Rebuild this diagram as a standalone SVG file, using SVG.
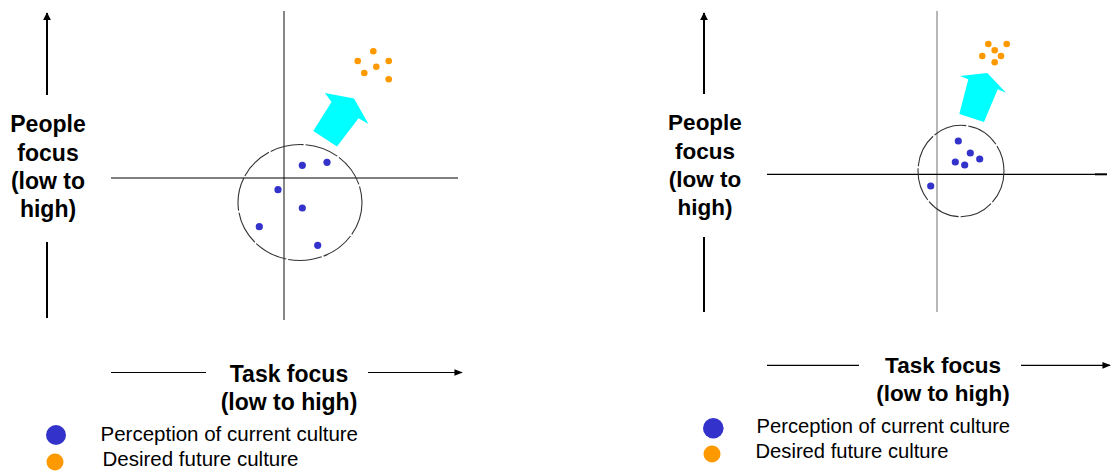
<svg xmlns="http://www.w3.org/2000/svg" width="1111" height="471" viewBox="0 0 1111 471">
<defs>
<style>
.lbl{font-family:"Liberation Sans",Arial,sans-serif;font-weight:bold;fill:#000;text-anchor:middle}
.leg{font-family:"Liberation Sans",Arial,sans-serif;fill:#000}
.ax{stroke:#000;stroke-width:2;fill:none}
.hx{stroke:#000;stroke-width:1.2;fill:none}
.cur{fill:#3333CC}
.fut{fill:#FF9900}
.ring{fill:none;stroke:#333;stroke-width:1.1;stroke-dasharray:34 2}
.shift{fill:#00FFFF}
</style>
<marker id="ah" viewBox="0 0 10 10" refX="9" refY="5" markerWidth="4" markerHeight="4" orient="auto"><path d="M0,0 L10,5 L0,10 z" fill="#000"/></marker>
<marker id="ah2" viewBox="0 0 10 10" refX="9" refY="5" markerWidth="7" markerHeight="7" orient="auto"><path d="M0,1 L10,5 L0,9 z" fill="#000"/></marker>
</defs>

<g id="connectors">
<!-- left panel -->
<line class="ax" x1="47" y1="95" x2="47" y2="13" marker-end="url(#ah)"/>
<line class="ax" x1="47" y1="242" x2="47" y2="318"/>
<line x1="284" y1="11" x2="284" y2="320" stroke="#888" stroke-width="2"/>
<line class="hx" x1="111" y1="178" x2="458" y2="178"/>
<line class="hx" x1="111" y1="372.5" x2="206" y2="372.5"/>
<line class="hx" x1="368" y1="372.5" x2="462" y2="372.5" marker-end="url(#ah2)"/>
<!-- right panel -->
<line class="ax" x1="704" y1="94" x2="704" y2="13" marker-end="url(#ah)"/>
<line class="ax" x1="704" y1="237" x2="704" y2="312"/>
<line x1="937" y1="11" x2="937" y2="312" stroke="#999" stroke-width="1.4"/>
<line class="hx" x1="767" y1="174.3" x2="1095" y2="174.3"/>
<line x1="1095" y1="174.3" x2="1107" y2="174.3" stroke="#000" stroke-width="2"/>
<line class="hx" x1="767" y1="365.3" x2="859" y2="365.3"/>
<line class="hx" x1="1021" y1="365.3" x2="1110" y2="365.3" marker-end="url(#ah2)"/>
</g>

<g id="left-labels">
<text class="lbl" font-size="23" x="48" y="132">People</text>
<text class="lbl" font-size="23" x="48" y="160.5">focus</text>
<text class="lbl" font-size="23" x="48" y="189">(low to</text>
<text class="lbl" font-size="23" x="48" y="217">high)</text>
<text class="lbl" font-size="23" x="289" y="381.5">Task focus</text>
<text class="lbl" font-size="23" x="289" y="409.5">(low to high)</text>
</g>

<g id="left-current">
<ellipse class="ring" cx="300" cy="202.5" rx="62" ry="58"/>
<circle class="cur" cx="302.3" cy="165.3" r="3.6"/>
<circle class="cur" cx="327" cy="162.3" r="3.6"/>
<circle class="cur" cx="278" cy="189.7" r="3.6"/>
<circle class="cur" cx="302.3" cy="208" r="3.6"/>
<circle class="cur" cx="259.3" cy="226.7" r="3.6"/>
<circle class="cur" cx="317.7" cy="245.3" r="3.6"/>
</g>

<g id="left-shift">
<polygon class="shift" points="325,93 354,98.5 368.5,124 358.5,118.3 337,146.5 313.3,131 331.5,102"/>
</g>

<g id="left-future">
<circle class="fut" cx="373.3" cy="51.3" r="3.3"/>
<circle class="fut" cx="357.7" cy="61" r="3.3"/>
<circle class="fut" cx="388.7" cy="61" r="3.3"/>
<circle class="fut" cx="376.3" cy="66.7" r="3.3"/>
<circle class="fut" cx="364.3" cy="73" r="3.3"/>
<circle class="fut" cx="388.7" cy="79.3" r="3.3"/>
</g>

<g id="left-legend">
<circle class="cur" cx="56" cy="435" r="10"/>
<circle class="fut" cx="55" cy="462" r="8.5"/>
<text class="leg" font-size="20.5" x="100.5" y="441">Perception of current culture</text>
<text class="leg" font-size="20.5" x="102.5" y="465.5">Desired future culture</text>
</g>

<g id="right-labels">
<text class="lbl" font-size="22.5" x="705" y="130">People</text>
<text class="lbl" font-size="22.5" x="705" y="158.5">focus</text>
<text class="lbl" font-size="22.5" x="705" y="187">(low to</text>
<text class="lbl" font-size="22.5" x="705" y="215">high)</text>
<text class="lbl" font-size="22.5" x="943" y="372.5">Task focus</text>
<text class="lbl" font-size="22.5" x="943" y="401">(low to high)</text>
</g>

<g id="right-current">
<ellipse class="ring" cx="961" cy="171" rx="43" ry="45.7"/>
<circle class="cur" cx="958.3" cy="141" r="3.6"/>
<circle class="cur" cx="970.3" cy="153" r="3.6"/>
<circle class="cur" cx="979.7" cy="159" r="3.6"/>
<circle class="cur" cx="955.3" cy="162" r="3.6"/>
<circle class="cur" cx="964.7" cy="165" r="3.6"/>
<circle class="cur" cx="930.7" cy="186" r="3.6"/>
</g>

<g id="right-shift">
<polygon class="shift" points="960,76 987.3,73 1006,92.7 997.7,89.3 984,122 959.3,114 968.3,79.3"/>
</g>

<g id="right-future">
<circle class="fut" cx="988.3" cy="44" r="3.3"/>
<circle class="fut" cx="1006.7" cy="44" r="3.3"/>
<circle class="fut" cx="994.7" cy="50.3" r="3.3"/>
<circle class="fut" cx="982.3" cy="56" r="3.3"/>
<circle class="fut" cx="1001" cy="56" r="3.3"/>
<circle class="fut" cx="994.7" cy="62.3" r="3.3"/>
</g>

<g id="right-legend">
<circle class="cur" cx="713.3" cy="428.3" r="10.3"/>
<circle class="fut" cx="712" cy="454" r="8.5"/>
<text class="leg" font-size="20.2" x="756.5" y="433">Perception of current culture</text>
<text class="leg" font-size="20.2" x="755.5" y="457.5">Desired future culture</text>
</g>
</svg>
